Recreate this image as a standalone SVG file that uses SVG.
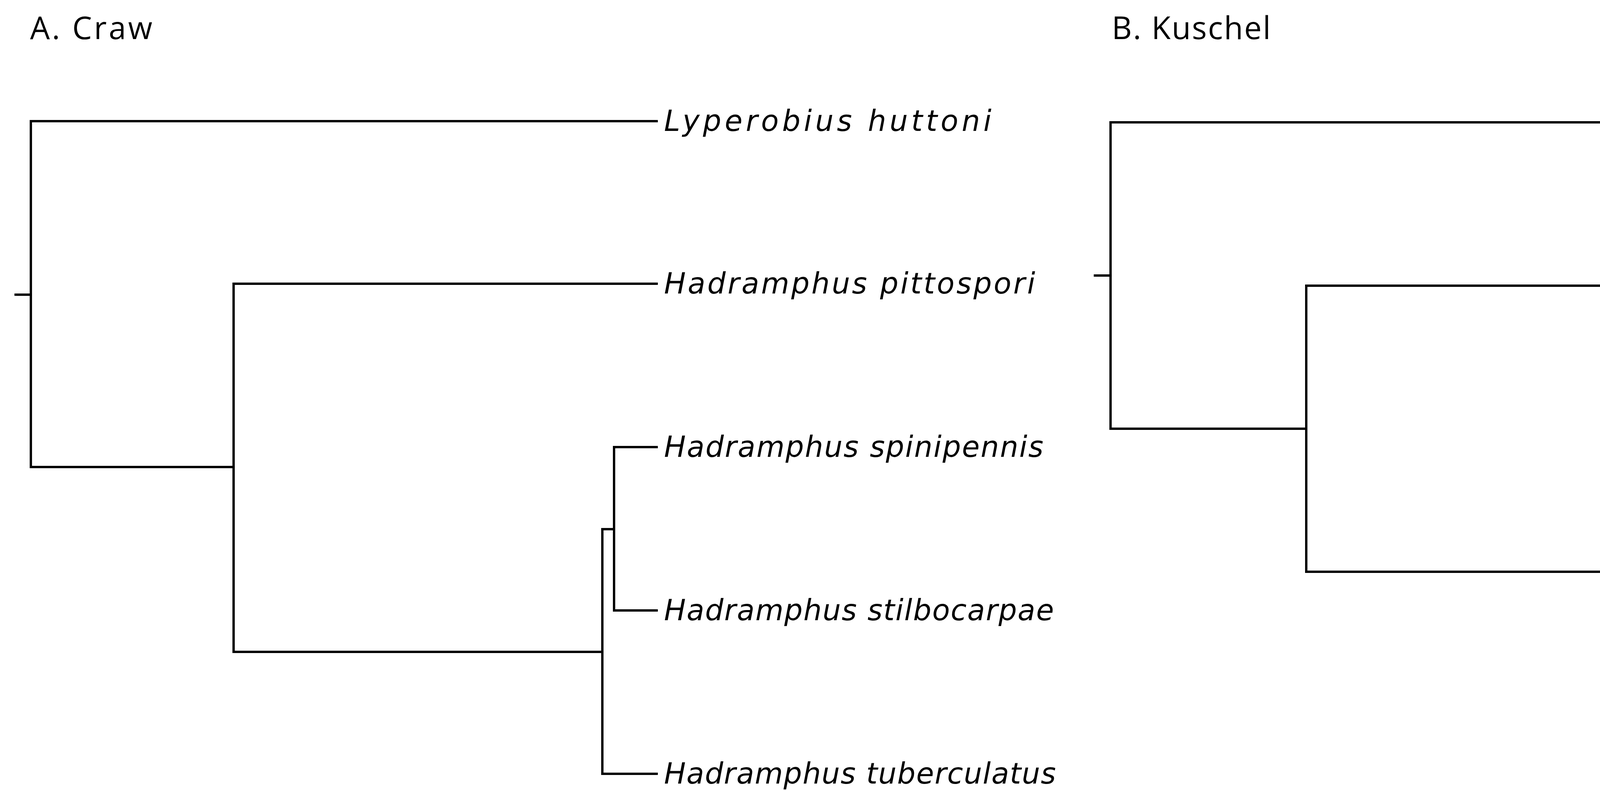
<svg xmlns="http://www.w3.org/2000/svg" width="5455" height="2024" viewBox="0 0 5455 2024">
<style>
.e{fill:none;stroke:#000;stroke-width:6;stroke-linecap:square}
.t{font-family:"DejaVu Sans","Liberation Sans",sans-serif;font-style:italic;font-size:74px;fill:#000}
.h{font-family:"Open Sans","Liberation Sans",sans-serif;font-size:80px;fill:#000}
</style>
<rect width="5455" height="2024" fill="#fff"/>
<g id="connectors">
<path class="e" d="M40 754H79M79 310V1195M79 310H1681M79 1195H598M598 726V1668M598 726H1681M598 1668H1542M1542 1354V1980M1542 1354H1572M1572 1144V1562M1572 1144H1681M1572 1562H1681M1542 1980H1681"/>
<path class="e" d="M2803 705H2843M2843 313V1097M2843 313H4444M2843 1097H3344M3344 731V1463M3344 731H4444M3344 1463H4317M4317 1149V1776M4317 1149H4444M4317 1776H4335M4335 1567V1985M4335 1567H4444M4335 1985H4444"/>
</g>
<g id="titleA"><text class="h" x="77" y="100" textLength="313">A. Craw</text></g>
<g id="titleB"><text class="h" x="2846" y="100" textLength="407">B. Kuschel</text></g>
<g id="A_huttoni"><text class="t" x="1700" y="335" textLength="838">Lyperobius huttoni</text></g>
<g id="A_pittospori"><text class="t" x="1700" y="751" textLength="950">Hadramphus pittospori</text></g>
<g id="A_spinipennis"><text class="t" x="1700" y="1169" textLength="971">Hadramphus spinipennis</text></g>
<g id="A_stilbocarpae"><text class="t" x="1700" y="1587" textLength="998">Hadramphus stilbocarpae</text></g>
<g id="A_tuberculatus"><text class="t" x="1700" y="2005" textLength="1003">Hadramphus tuberculatus</text></g>
<g id="B_huttoni"><text class="t" x="4468" y="338" textLength="838">Lyperobius huttoni</text></g>
<g id="B_pittospori"><text class="t" x="4468" y="756" textLength="950">Hadramphus pittospori</text></g>
<g id="B_spinipennis"><text class="t" x="4468" y="1174" textLength="971">Hadramphus spinipennis</text></g>
<g id="B_stilbocarpae"><text class="t" x="4468" y="1592" textLength="998">Hadramphus stilbocarpae</text></g>
<g id="B_tuberculatus"><text class="t" x="4468" y="2010" textLength="980">Hadramphus tuberculatus</text></g>
</svg>
